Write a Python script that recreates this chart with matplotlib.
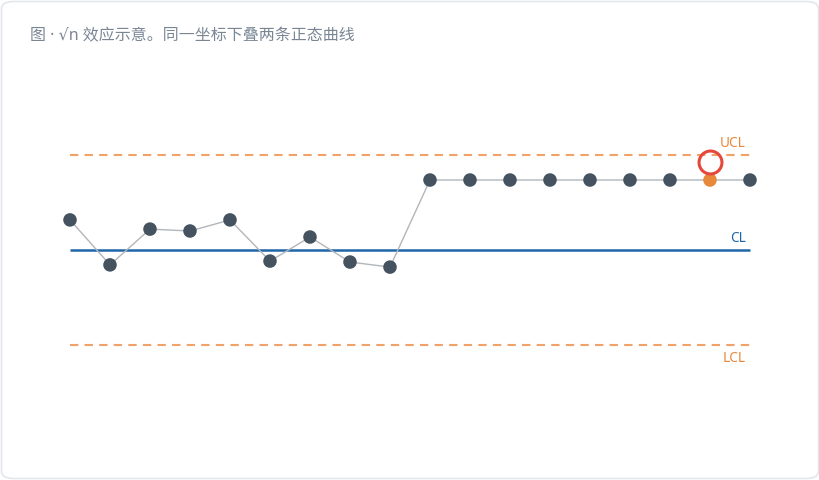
import numpy as np
import matplotlib.pyplot as plt
from matplotlib.patches import FancyBboxPatch

plt.rcParams['font.family'] = ['Noto Sans', 'DejaVu Sans', 'Noto Sans CJK SC']

# data
values = [10.95, 9.53, 10.66, 10.60, 10.95, 9.65, 10.41, 9.62, 9.46,
          12.21, 12.21, 12.21, 12.21, 12.21, 12.21, 12.21, 12.21, 12.21]
cl, ucl, lcl = 10.0, 13.0, 7.0
flag_idx = 16
title = "图 · √n 效应示意。同一坐标下叠两条正态曲线"

x = np.arange(len(values))
y = np.array(values)

fig = plt.figure(figsize=(8.2, 4.8), dpi=100)
fig.patch.set_facecolor("white")

# card
card = FancyBboxPatch((1.5 / 820, 1.5 / 480), 817 / 820, 477 / 480,
                      boxstyle="round,pad=0,rounding_size=0.015",
                      transform=fig.transFigure, facecolor="white",
                      edgecolor="#e3e7ec", lw=1.2, zorder=0)
fig.patches.append(card)

ax = fig.add_axes([0, 0, 1, 1], zorder=2)
ax.set_facecolor("none")
px_per_x = 40.0
px_per_y = 95.0 / 3.0
ax.set_xlim(0 - 70 / px_per_x, 17 + 70 / px_per_x)
ax.set_ylim(cl - 230 / px_per_y, cl + 250 / px_per_y)
ax.axis("off")

x0, x1 = x[0], x[-1]
ax.plot([x0, x1], [ucl, ucl], color="#f0a268", lw=1.5, ls=(0, (4, 3)))
ax.plot([x0, x1], [lcl, lcl], color="#f0a268", lw=1.5, ls=(0, (4, 3)))
ax.plot([x0, x1], [cl, cl], color="#1f66a8", lw=1.8, solid_capstyle="butt")

ax.plot(x, y, color="#b2b6ba", lw=1.0, zorder=2)
colors = ["#e8883a" if i == flag_idx else "#44535f" for i in range(len(y))]
ax.scatter(x, y, s=95, c=colors, zorder=3, linewidths=0)
# flag ring sits just under the UCL
ax.plot(x[flag_idx], ucl - 0.22, marker="o", ms=16.5, mfc="none",
        mec="#e5483a", mew=2.2, zorder=4)

ax.text(x1 - 0.1, ucl + 0.37, "UCL", color="#e8883a", fontsize=9.8,
        ha="right", va="center")
ax.text(x1 - 0.1, cl + 0.37, "CL", color="#1f66a8", fontsize=9.8,
        ha="right", va="center")
ax.text(x1 - 0.1, lcl - 0.43, "LCL", color="#e8883a", fontsize=9.8,
        ha="right", va="center")

fig.text(30 / 820, 1 - 36.5 / 480, title, color="#7a8694", fontsize=11.5,
         ha="left", va="center")

fig.savefig("out.png", dpi=100)
